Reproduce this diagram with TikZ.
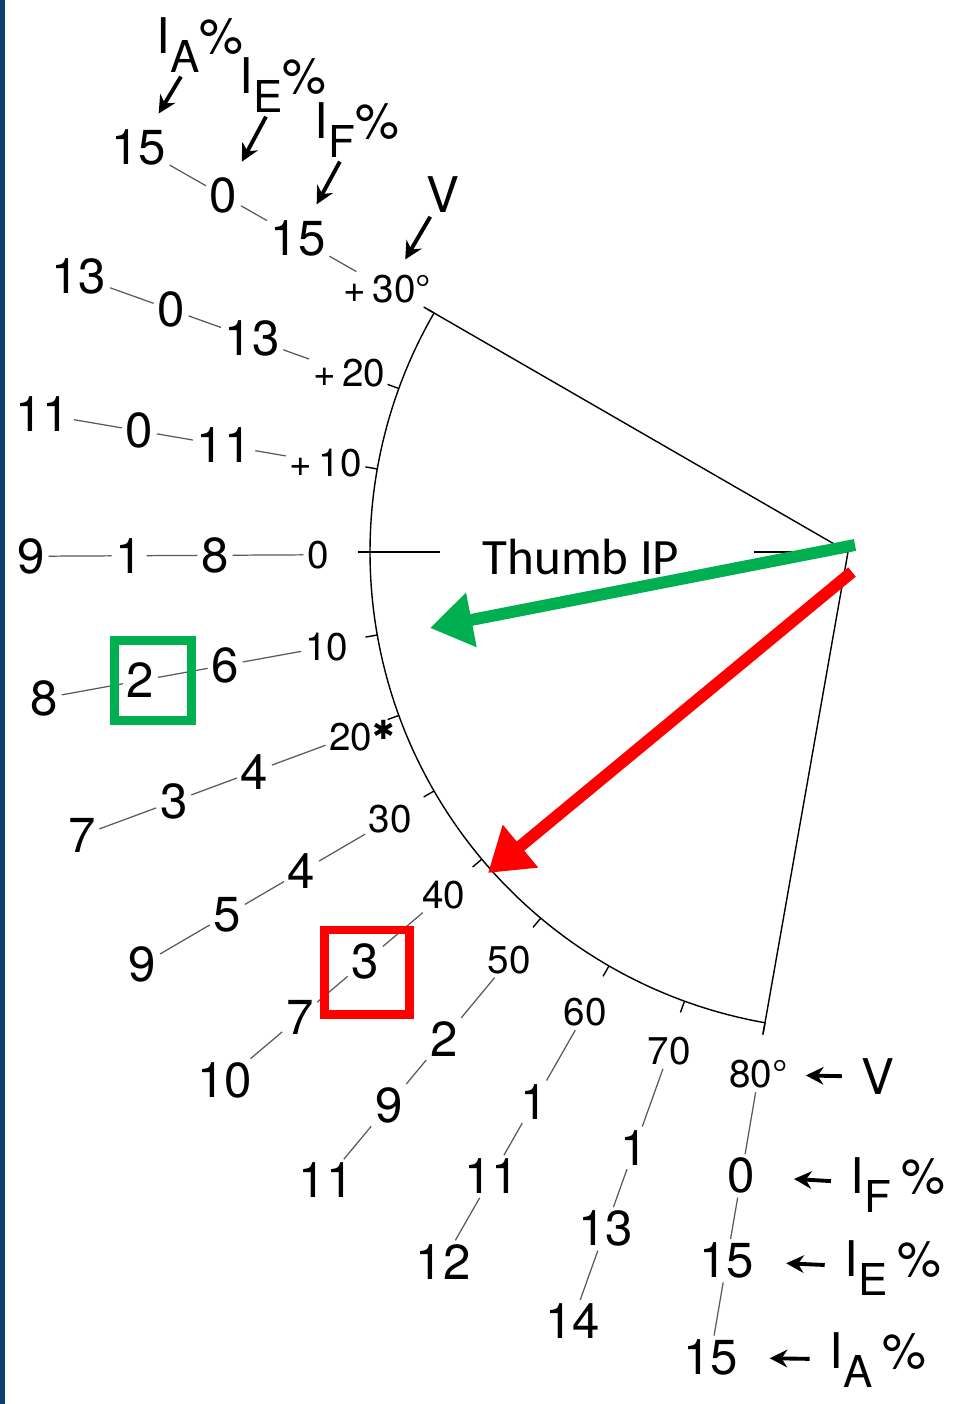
\documentclass[tikz,border=0pt]{standalone}
\usepackage{fontspec}
\setmainfont{TeX Gyre Heros}
\newfontfamily\calfont{Carlito}
\newfontfamily\symfont{DejaVu Sans}
\usetikzlibrary{arrows.meta}

\definecolor{markgreen}{RGB}{0,176,80}
\definecolor{markred}{RGB}{255,0,0}
\definecolor{edgeblue}{RGB}{12,62,112}
\definecolor{linkgray}{gray}{0.35}

% I with lowered letter and percent sign
\newcommand{\jpct}[2][0pt]{I\raisebox{-0.4em}{\fontsize{25}{25}\selectfont #2}\hspace{#1}\%}
\newcommand{\astmark}{\rlap{\raisebox{0.3em}{\symfont\fontsize{15}{15}\selectfont ✱}}}

\begin{document}
\begin{tikzpicture}[x=0.02cm, y=0.02cm,
    num/.style={font=\fontsize{28}{28}\selectfont, inner sep=2pt},
    deg/.style={font=\fontsize{22}{22}\selectfont, inner sep=2pt},
    link/.style={draw=linkgray, line width=0.7pt},
    pointer/.style={-{Stealth[length=10pt, width=10pt]}, line width=2.2pt, shorten >=8pt},
    outline/.style={line width=0.8pt},
    boxmark/.style={draw, line width=5pt, inner sep=0pt},
    bigarrow/.style={line width=6.8pt, -{Triangle[length=24pt, width=30pt]}}]

\useasboundingbox (0,0) rectangle (954,1404);
\fill[white] (0,0) rectangle (954,1404);
\fill[edgeblue] (0,0) rectangle (4.5,1404);
\coordinate (C) at (848,852);

% sector of the joint
\draw[outline] (C) -- ([shift={(150:486)}]C);
\draw[outline] (C) -- ([shift={(260:490)}]C);
\draw[outline] ([shift={(150:478)}]C) arc[start angle=150, end angle=260, radius=478];
\foreach \v in {-30,-20,...,80}
    \draw[outline] ([shift={(180+\v:478)}]C) -- ([shift={(180+\v:490)}]C);
\draw[outline] ([shift={(180:488)}]C) -- ([shift={(180:408)}]C);
\draw[outline] ([shift={(180:94)}]C) -- (C);
\node[font=\calfont\fontsize{29}{29}\selectfont, inner sep=0pt, yshift=-3pt] (thumb) at ([shift={(180:267)}]C) {Thumb IP};

% angle, then IF, IE, IA values
\foreach \v/\d/\f/\e/\a in {-30/{+\,30°}/15/0/15, -20/{+\,20}/13/0/13, -10/{+\,10}/11/0/11,
    0/0/8/1/9, 10/10/6/2/8, 20/{20\astmark}/4/3/7, 30/30/4/5/9, 40/40/3/7/10,
    50/50/2/9/11, 60/60/1/11/12, 70/70/1/13/14, 80/{80°}/0/15/15}
{
    \node[deg] (d\v) at ([shift={(180.3+\v:530)}]C) {\d};
    \node[num] (f\v) at ([shift={(180.3+\v:633)}]C) {\f};
    \node[num] (e\v) at ([shift={(180.3+\v:719)}]C) {\e};
    \node[num] (a\v) at ([shift={(180.3+\v:817)}]C) {\a};
    \draw[link] (d\v) -- (f\v) (f\v) -- (e\v) (e\v) -- (a\v);
}

% headings at the top
\node[num] (tA) at (200,1359) {\jpct{A}};
\node[num] (tE) at (283,1319) {\jpct{E}};
\node[num] (tF) at (357,1274) {\jpct{F}};
\node[num] (tV) at (443,1209) {V};
\draw[pointer] (tA) -- (a-30);
\draw[pointer] (tE) -- (e-30);
\draw[pointer] (tF) -- (f-30);
\draw[pointer] (tV) -- (d-30);

% headings at the bottom
\node[num] (bV) at (878,327) {V};
\node[num] (bF) at (898,219) {\jpct[6pt]{F}};
\node[num] (bE) at (893,136) {\jpct[6pt]{E}};
\node[num] (bA) at (878,44) {\jpct[6pt]{A}};
\draw[pointer, shorten <=9pt] (bV) -- (d80);
\draw[pointer, shorten <=9pt, shorten >=20pt] (bF) -- (f80);
\draw[pointer, shorten <=9pt, shorten >=16pt] (bE) -- (e80);
\draw[pointer, shorten <=9pt, shorten >=16pt] (bA) -- (a80);

% marks laid over the chart
\node[boxmark, draw=markgreen, minimum width=1.54cm, minimum height=1.6cm] (gbox) at ([shift={(12,0)}]e10) {};
\node[boxmark, draw=markred, minimum width=1.7cm, minimum height=1.7cm] (rbox) at ([shift={(2,-11)}]f40) {};
\coordinate (gs) at (855,859);
\coordinate (ge) at (430,776);
\coordinate (rs) at (852,832);
\coordinate (re) at (488,531);
\draw[bigarrow, markgreen] (gs) -- (ge);
\draw[bigarrow, markred] (rs) -- (re);
\end{tikzpicture}
\end{document}
